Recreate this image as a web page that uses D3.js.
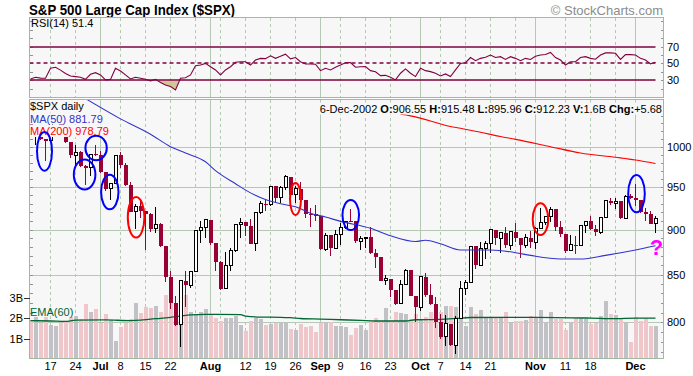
<!DOCTYPE html>
<html>
<head>
<meta charset="utf-8">
<script src="https://cdn.jsdelivr.net/npm/d3@7"></script>
<style>
  body { margin: 0; background: #fff; }
  svg { display: block; font-family: "Liberation Sans", Arial, sans-serif; }
</style>
</head>
<body>
<svg id="chart" width="693" height="376"></svg>
<script>
// $SPX daily candles, Jun 11 - Dec 6 2002, with RSI(14), MA(50), MA(200), volume + EMA(60)

const days = [
  "6/11","6/12","6/13","6/14","6/17","6/18","6/19","6/20","6/21","6/24","6/25","6/26","6/27","6/28",
  "7/1","7/2","7/3","7/5","7/8","7/9","7/10","7/11","7/12","7/15","7/16","7/17","7/18","7/19","7/22","7/23","7/24","7/25","7/26","7/29","7/30","7/31",
  "8/1","8/2","8/5","8/6","8/7","8/8","8/9","8/12","8/13","8/14","8/15","8/16","8/19","8/20","8/21","8/22","8/23","8/26","8/27","8/28","8/29","8/30",
  "9/3","9/4","9/5","9/6","9/9","9/10","9/11","9/12","9/13","9/16","9/17","9/18","9/19","9/20","9/23","9/24","9/25","9/26","9/27","9/30",
  "10/1","10/2","10/3","10/4","10/7","10/8","10/9","10/10","10/11","10/14","10/15","10/16","10/17","10/18","10/21","10/22","10/23","10/24","10/25","10/28","10/29","10/30","10/31",
  "11/1","11/4","11/5","11/6","11/7","11/8","11/11","11/12","11/13","11/14","11/15","11/18","11/19","11/20","11/21","11/22","11/25","11/26","11/27","11/29",
  "12/2","12/3","12/4","12/5","12/6"
];

const opens = [
  1030.74, 1013.60, 1020.26, 1009.56, 1007.27, 1036.17, 1037.14, 1019.99, 1006.29, 989.14, 992.72, 976.14, 973.53, 990.64,
  989.82, 968.65, 948.09, 953.99, 989.03, 976.98, 952.83, 920.47, 927.37, 921.39, 917.93, 900.94, 906.04, 881.56, 847.75, 819.85, 797.70, 843.43, 838.68, 852.84, 898.96, 902.78,
  911.62, 884.66, 864.24, 834.60, 859.57, 876.77, 905.46, 908.64, 903.80, 884.21, 919.62, 930.25, 928.77, 950.70, 937.43, 949.36, 962.70, 940.86, 947.95, 934.82, 917.87, 917.80,
  916.07, 878.02, 893.40, 879.15, 893.92, 902.96, 909.58, 909.45, 886.91, 889.81, 891.10, 873.52, 869.46, 843.32, 845.39, 833.70, 819.29, 839.66, 854.95, 827.37,
  815.28, 847.91, 827.91, 818.95, 800.58, 785.28, 798.55, 776.76, 803.92, 835.32, 841.44, 881.27, 860.02, 879.20, 884.39, 899.72, 890.16, 896.14, 882.50, 897.65, 890.23, 882.15, 890.71,
  885.76, 900.96, 908.35, 915.39, 923.76, 902.65, 894.74, 876.19, 882.95, 882.53, 904.27, 909.83, 900.36, 896.74, 914.15, 933.76, 930.55, 932.87, 913.31, 938.87,
  936.31, 934.53, 920.75, 917.58, 906.55
];

const highs = [
  1039, 1021.5, 1023, 1009.6, 1036.2, 1040.8, 1037.6, 1023.3, 1006.3, 1002.1, 995, 977.4, 990.7, 1001.8,
  994.5, 968.7, 954.3, 989.1, 993.6, 979.6, 956.3, 929.2, 934.3, 921.4, 918.7, 926.5, 907.8, 881.6, 854.1, 827.7, 844.3, 853.8, 852.9, 899.0, 909.8, 911.6,
  911.6, 884.7, 864.3, 874.4, 878.7, 905.8, 913.9, 908.6, 911.7, 920.2, 933.3, 935.4, 951.2, 950.7, 951.6, 965.0, 962.7, 950.8, 955.8, 934.8, 924.6, 928.2,
  916.1, 896.1, 893.4, 899.1, 907.3, 909.9, 924.0, 909.5, 892.8, 891.8, 902.7, 878.5, 869.5, 849.3, 845.4, 833.7, 844.2, 856.6, 854.9, 827.4,
  848.0, 851.9, 840.0, 825.9, 808.2, 807.0, 798.6, 806.5, 843.3, 844.4, 881.3, 881.3, 885.4, 886.7, 900.7, 899.7, 896.3, 902.9, 897.7, 907.4, 890.6, 895.3, 898.8,
  903.4, 924.6, 915.8, 925.7, 923.8, 910.1, 894.7, 894.3, 892.5, 904.3, 910.1, 915.9, 905.5, 915.0, 935.1, 937.2, 937.2, 932.9, 940.4, 941.8,
  954.3, 934.5, 925.3, 921.5, 915.48
];

const lows = [
  1012, 1002.7, 1008, 981.6, 1007.3, 1030.9, 1018.9, 1004.6, 985.7, 975, 974.2, 952.9, 963.7, 988.3,
  967.4, 945.5, 934.9, 954.0, 972.9, 951.7, 920.3, 900.9, 913.7, 876.5, 897.1, 895.8, 880.6, 842.1, 813.3, 796.1, 775.7, 816.1, 835.9, 852.8, 884.7, 889.9,
  882.5, 853.9, 833.4, 834.6, 854.1, 875.2, 890.8, 892.4, 883.6, 876.2, 918.2, 922.0, 927.0, 931.9, 931.5, 946.4, 937.2, 930.4, 930.4, 913.5, 903.3, 910.2,
  877.5, 875.7, 870.5, 879.2, 882.9, 900.5, 908.5, 884.8, 877.0, 878.9, 872.4, 857.4, 843.1, 839.1, 825.9, 817.4, 818.5, 839.7, 826.8, 800.2,
  812.0, 826.5, 817.3, 794.1, 783.0, 775.8, 775.8, 768.6, 803.9, 828.7, 841.4, 856.3, 860.0, 866.6, 873.1, 882.1, 873.8, 879.2, 877.0, 886.2, 867.9, 879.2, 879.7,
  877.7, 901.0, 904.9, 909.3, 898.7, 891.6, 874.2, 876.2, 872.1, 882.5, 895.6, 899.5, 893.1, 894.9, 914.2, 928.4, 923.9, 912.1, 913.3, 935.6,
  927.7, 918.7, 909.5, 905.9, 895.96
];

const closes = [
  1013.60, 1020.26, 1009.56, 1007.27, 1036.17, 1037.14, 1019.99, 1006.29, 989.14, 992.72, 976.14, 973.53, 990.64, 989.82,
  968.65, 948.09, 953.99, 989.03, 976.98, 952.83, 920.47, 927.37, 921.39, 917.93, 900.94, 906.04, 881.56, 847.75, 819.85, 797.70, 843.43, 838.68, 852.84, 898.96, 902.78, 911.62,
  884.66, 864.24, 834.60, 859.57, 876.77, 905.46, 908.64, 903.80, 884.21, 919.62, 930.25, 928.77, 950.70, 937.43, 949.36, 962.70, 940.86, 947.95, 934.82, 917.87, 917.80, 916.07,
  878.02, 893.40, 879.15, 893.92, 902.96, 909.58, 909.45, 886.91, 889.81, 891.10, 873.52, 869.46, 843.32, 845.39, 833.70, 819.29, 839.66, 854.95, 827.37, 815.28,
  847.91, 827.91, 818.95, 800.58, 785.28, 798.55, 776.76, 803.92, 835.32, 841.44, 881.27, 860.02, 879.20, 884.39, 899.72, 890.16, 896.14, 882.50, 897.65, 890.23, 882.15, 890.71, 885.76,
  900.96, 908.35, 915.39, 923.76, 902.65, 894.74, 876.19, 882.95, 882.53, 904.27, 909.83, 900.36, 896.74, 914.15, 933.76, 930.55, 932.87, 913.31, 938.87, 936.31,
  934.53, 920.75, 917.58, 906.55, 912.23
];

// volume, billions of shares
const volumes = [
  1.9, 2.05, 1.75, 2.05, 1.65, 1.6, 1.75, 1.8, 2.05, 2.1, 1.95, 2.7, 2.3, 2.45,
  1.75, 2.2, 1.9, 0.9, 1.55, 1.75, 1.95, 2.75, 2.25, 2.55, 2.5, 2.6, 2.3, 3.1, 2.9, 2.1, 3.3, 3.1, 2.3, 2.2, 2.3, 2.45,
  2.15, 2.0, 1.85, 2.0, 2.0, 2.1, 1.67, 1.39, 1.86, 2.0, 1.95, 1.65, 1.73, 1.78, 1.78, 1.78, 1.47, 1.44, 1.7, 1.57, 1.6, 1.33,
  1.78, 1.8, 1.8, 1.6, 1.6, 1.57, 1.2, 1.54, 1.65, 1.44, 1.86, 2.0, 1.84, 2.49, 1.86, 2.3, 2.25, 2.18, 1.97, 2.18,
  1.97, 2.05, 2.3, 1.97, 2.3, 2.6, 2.6, 2.55, 2.5, 1.64, 2.55, 2.2, 2.4, 2.0, 2.0, 2.05, 2.05, 2.3, 1.75, 1.85, 1.85, 1.9, 2.1,
  2.05, 2.4, 1.8, 2.3, 1.95, 1.95, 1.43, 1.8, 2.0, 2.0, 1.95, 1.7, 1.75, 2.1, 2.85, 2.2, 2.15, 2.0, 1.75, 0.85,
  2.05, 1.85, 2.0, 1.6, 1.6
];

const rsiValues = [
  31.5, 33.5, 32.5, 32.4, 44.2, 45.4, 42, 38, 35, 34.3, 33.5, 31, 37, 39,
  36.3, 30.4, 31, 44.2, 41, 36.3, 31.5, 33.5, 32.4, 31.1, 29.2, 31, 27.2, 24.4, 22.4, 18.5, 32.4, 33, 36.3, 47.3, 48, 50,
  46, 42.2, 36.3, 42.2, 46, 51.3, 52, 52, 48, 54, 56, 55.7, 59, 56, 58.5, 61, 55.5, 57, 52, 49.3, 49.3, 49,
  41.4, 44.2, 42.2, 45.4, 48, 50.8, 51, 45.4, 46, 46.3, 41.4, 40, 35.5, 35.8, 33.5, 30.4, 38.3, 43.5, 38.3, 34.3,
  44.2, 41.4, 40.2, 38.3, 35, 37.5, 34.3, 42.2, 50, 50.8, 57, 53.2, 56, 57.3, 60, 57, 58, 54.7, 58, 56, 53.2, 56, 54.7,
  58.5, 60, 60.5, 63, 57, 54, 48, 52, 52, 57, 58, 56, 55, 60, 62.5, 62.5, 62, 54.7, 60.5, 60.5,
  60, 56, 54, 49.5, 51.4
];

// moving averages at a few dates
const ma50Days = ["6/26","7/8","7/16","7/22","7/25","7/31","8/2","8/8","8/13","8/16","8/21","8/26","8/29","9/4","9/9","9/17","9/23","9/30","10/2","10/7","10/11","10/21","10/28","10/31","11/8","11/14","11/21","12/2","12/6"];
const ma50Values = [1063, 1036, 1016, 1000, 992, 981, 970, 954, 943, 935, 930, 926.5, 919, 914.5, 909.5, 901.5, 893, 886.5, 888, 884, 877, 877, 874, 871, 867, 867, 871, 877, 881.79];

const ma200Days = ["9/25","9/27","10/9","10/11","10/17","10/23","10/28","11/6","11/14","11/25","12/2","12/6"];
const ma200Values = [1042, 1040, 1026, 1023.7, 1018.5, 1013, 1009.4, 1000, 992, 986.6, 983.2, 978.79];

const emaDays = ["6/11","6/17","6/20","6/24","7/2","7/10","7/12","7/16","7/18","7/22","7/24","7/26","7/31","8/9","8/12","8/15","8/21","8/23","8/27","9/3","9/9","9/13","9/18","9/26","9/30","10/7","10/10","10/15","11/1","11/18","11/25","12/2","12/6"];
const emaValues = [1.875, 1.86, 1.84, 1.9, 1.91, 1.88, 1.9, 1.95, 1.99, 2.04, 2.1, 2.16, 2.18, 2.17, 2.1, 2.05, 2.04, 2.02, 1.98, 1.95, 1.92, 1.89, 1.86, 1.86, 1.92, 1.94, 1.98, 2.03, 2.04, 2.0, 1.97, 2.0, 2.0];

const priceTicks = [800, 850, 900, 950, 1000];
const volumeTicks = [1, 2, 3];
const rsiLevels = [70, 50, 30];

const monthLines = ["7/1","8/1","9/3","10/1","11/1","12/2"];
const weekLines = ["6/17","6/24","7/8","7/15","7/22","7/29","8/5","8/12","8/19","8/26","9/9","9/16","9/23","10/7","10/14","10/21","10/28","11/11","11/18","11/25"];
const dateLabelDays = ["6/17","6/24","7/1","7/8","7/15","7/22","8/1","8/12","8/19","8/26","9/3","9/9","9/16","9/23","10/1","10/7","10/14","10/21","11/1","11/11","11/18","12/2"];
const dateLabels = ["17","24","Jul","8","15","22","Aug","12","19","26","Sep","9","16","23","Oct","7","14","21","Nov","11","18","Dec"];

// hand-drawn circles: centre day (+ offset in days), half width in days, price top/bottom
const markDays = ["6/14","6/26","6/28","7/3","7/11","8/26","9/11","11/4","12/2"];
const markShift = [-0.2, -0.18, 0.12, -0.14, 0.12, 0, 0.05, 0, 0.2];
const markHalf = [1.5, 2.16, 2.14, 1.74, 1.66, 1.1, 1.66, 1.56, 1.66];
const markTop = [1019, 984, 1014, 965, 938, 955, 934.5, 930.6, 964.7];
const markBottom = [970, 947, 983, 923.5, 891, 917, 899.5, 893.8, 920];
const markColors = ["blue","blue","blue","blue","red","red","blue","red","blue"];

(function () {
  const LEFT = 29.5, RIGHT = 663.5;
  const RSI_TOP = 17.5, RSI_BOTTOM = 97.5;
  const MAIN_TOP = 99.5, MAIN_BOTTOM = 358.5;

  const GRID = "#b4c8b4";
  const BORDER = "#a3b8a3";
  const PANEL_BG = "#f7f7f7";
  const RED = "#990033";
  const MAROON = "#800040";

  const svg = d3.select("#chart");

  const x = d3.scalePoint().domain(days).range([30.5, 655.5]);
  const step = x.step();
  const y = d3.scaleLog().domain([800, 1000]).range([322.3, 146.7]);
  const yVol = d3.scaleLinear().domain([0, 3]).range([359.3, 297.5]);
  const yRsi = d3.scaleLinear().domain([30, 70]).range([80.2, 46.6]);

  const bars = days.map((d, k) => ({
    day: d, o: opens[k], h: highs[k], l: lows[k], c: closes[k], v: volumes[k], rsi: rsiValues[k]
  }));

  const defs = svg.append("defs");
  defs.append("clipPath").attr("id", "clip-main")
    .append("rect").attr("x", LEFT).attr("y", MAIN_TOP)
    .attr("width", RIGHT - LEFT).attr("height", MAIN_BOTTOM - MAIN_TOP);
  defs.append("clipPath").attr("id", "clip-rsi")
    .append("rect").attr("x", LEFT).attr("y", RSI_TOP)
    .attr("width", RIGHT - LEFT).attr("height", RSI_BOTTOM - RSI_TOP);
  defs.append("clipPath").attr("id", "clip-oversold")
    .append("rect").attr("x", LEFT).attr("y", yRsi(30))
    .attr("width", RIGHT - LEFT).attr("height", RSI_BOTTOM - yRsi(30));

  // titles
  svg.append("text").attr("x", 29).attr("y", 15)
    .attr("textLength", 206).attr("lengthAdjust", "spacingAndGlyphs")
    .style("font-size", "14.5px").style("font-weight", "bold")
    .text("S&P 500 Large Cap Index ($SPX)");
  svg.append("text").attr("x", 663).attr("y", 15).attr("text-anchor", "end")
    .style("font-size", "13px").style("fill", "#8c8c8c")
    .text("© StockCharts.com");

  // panel backgrounds + gridlines
  function panel(top, bottom) {
    const g = svg.append("g").attr("shape-rendering", "crispEdges");
    g.append("rect").attr("x", LEFT).attr("y", top)
      .attr("width", RIGHT - LEFT).attr("height", bottom - top)
      .attr("fill", PANEL_BG);
    g.selectAll(".wk").data(weekLines).enter().append("line")
      .attr("x1", d => x(d)).attr("x2", d => x(d))
      .attr("y1", top).attr("y2", bottom)
      .attr("stroke", GRID).attr("stroke-dasharray", "3,3");
    g.selectAll(".mo").data(monthLines).enter().append("line")
      .attr("x1", d => x(d)).attr("x2", d => x(d))
      .attr("y1", top).attr("y2", bottom)
      .attr("stroke", GRID);
    return g;
  }

  const rsiPanel = panel(RSI_TOP, RSI_BOTTOM);
  const mainPanel = panel(MAIN_TOP, MAIN_BOTTOM);

  mainPanel.selectAll(".hg").data(priceTicks).enter().append("line")
    .attr("x1", LEFT).attr("x2", RIGHT)
    .attr("y1", d => Math.round(y(d)) + 0.5).attr("y2", d => Math.round(y(d)) + 0.5)
    .attr("stroke", GRID);

  // minor ticks on panel edges
  const priceMinor = d3.range(770, 1070, 10).filter(v => y(v) > MAIN_TOP + 2 && y(v) < MAIN_BOTTOM - 2);
  [[LEFT, LEFT + 3], [RIGHT - 3, RIGHT]].forEach(([a, b]) => {
    mainPanel.selectAll(null).data(priceMinor).enter().append("line")
      .attr("x1", a).attr("x2", b)
      .attr("y1", d => Math.round(y(d)) + 0.5).attr("y2", d => Math.round(y(d)) + 0.5)
      .attr("stroke", "#8a9a8a");
  });
  const rsiMinor = d3.range(0, 110, 10).filter(v => yRsi(v) > RSI_TOP + 2 && yRsi(v) < RSI_BOTTOM - 2);
  [[LEFT, LEFT + 3], [RIGHT - 3, RIGHT]].forEach(([a, b]) => {
    rsiPanel.selectAll(null).data(rsiMinor).enter().append("line")
      .attr("x1", a).attr("x2", b)
      .attr("y1", d => Math.round(yRsi(d)) + 0.5).attr("y2", d => Math.round(yRsi(d)) + 0.5)
      .attr("stroke", "#8a9a8a");
  });

  // RSI panel
  const rsiG = svg.append("g").attr("clip-path", "url(#clip-rsi)");
  const lastX = x(days[days.length - 1]);
  rsiG.append("path")
    .datum(bars)
    .attr("clip-path", "url(#clip-oversold)")
    .attr("fill", "#cfc894")
    .attr("d", d3.area().x(d => x(d.day)).y0(yRsi(30)).y1(d => yRsi(d.rsi)));

  rsiG.selectAll(".lvl").data(rsiLevels).enter().append("line")
    .attr("x1", LEFT).attr("x2", lastX)
    .attr("y1", d => Math.round(yRsi(d))).attr("y2", d => Math.round(yRsi(d)))
    .attr("stroke", MAROON).attr("stroke-width", 1.6)
    .attr("stroke-dasharray", d => d === 50 ? "4,3" : null);

  rsiG.append("path")
    .datum(bars)
    .attr("fill", "none").attr("stroke", MAROON).attr("stroke-width", 1.1)
    .attr("d", d3.line().x(d => x(d.day)).y(d => yRsi(d.rsi)));

  svg.append("text").attr("x", 31).attr("y", 27)
    .style("font-size", "11px").text("RSI(14) 51.4");
  svg.selectAll(".rsiLab").data(rsiLevels).enter().append("text")
    .attr("x", 667).attr("y", d => yRsi(d) + 4)
    .style("font-size", "11px").text(d => d);

  // main panel
  const mainG = svg.append("g").attr("clip-path", "url(#clip-main)");

  mainG.selectAll(".vol").data(bars).enter().append("rect")
    .attr("x", d => x(d.day) - 2).attr("width", 4)
    .attr("y", d => yVol(d.v)).attr("height", d => yVol(0) - yVol(d.v))
    .attr("fill", d => d.c < d.o ? "#efc6ca" : "#c2c1c6")
    .attr("shape-rendering", "crispEdges");

  mainG.append("path")
    .datum(emaDays.map((d, k) => [d, emaValues[k]]))
    .attr("fill", "none").attr("stroke", "#006633").attr("stroke-width", 1.3)
    .attr("d", d3.line().x(d => x(d[0])).y(d => yVol(d[1])).curve(d3.curveMonotoneX));

  const candle = mainG.selectAll(".candle").data(bars).enter().append("g")
    .attr("shape-rendering", "crispEdges");
  candle.append("line")
    .attr("x1", d => x(d.day)).attr("x2", d => x(d.day))
    .attr("y1", d => y(d.h)).attr("y2", d => y(d.l))
    .attr("stroke", d => d.c < d.o ? RED : "#000");
  candle.append("rect")
    .attr("x", d => d.c < d.o ? x(d.day) - 2 : x(d.day) - 1.5)
    .attr("width", d => d.c < d.o ? 4 : 3)
    .attr("y", d => y(Math.max(d.o, d.c)))
    .attr("height", d => Math.max(1, y(Math.min(d.o, d.c)) - y(Math.max(d.o, d.c))))
    .attr("fill", d => d.c < d.o ? RED : "#fff")
    .attr("stroke", d => d.c < d.o ? "none" : "#000");

  const maLine = d3.line().x(d => x(d[0])).y(d => y(d[1])).curve(d3.curveMonotoneX);
  mainG.append("path")
    .datum(ma50Days.map((d, k) => [d, ma50Values[k]]))
    .attr("fill", "none").attr("stroke", "#3333cc").attr("stroke-width", 1.1)
    .attr("d", maLine);
  mainG.append("path")
    .datum(ma200Days.map((d, k) => [d, ma200Values[k]]))
    .attr("fill", "none").attr("stroke", "#ff0000").attr("stroke-width", 1.1)
    .attr("d", maLine);

  // text on an opaque panel-coloured box, as in the source chart
  function boxedText(parent, tx, ty, size, color, parts, anchor) {
    const g = parent.append("g");
    const bg = g.append("rect").attr("fill", PANEL_BG);
    const t = g.append("text").attr("x", tx).attr("y", ty)
      .attr("text-anchor", anchor || "start")
      .style("font-size", size).style("fill", color);
    parts.forEach(([s, b]) => t.append("tspan").style("font-weight", b ? "bold" : "normal").text(s));
    const bb = t.node().getBBox();
    bg.attr("x", bb.x - 1).attr("y", bb.y).attr("width", bb.width + 2).attr("height", bb.height);
    return g;
  }

  const legendG = svg.append("g").attr("clip-path", "url(#clip-main)");
  const legend = [["$SPX daily", "#000"], ["MA(50) 881.79", "#3333cc"], ["MA(200) 978.79", "#ff0000"]];
  legend.forEach((d, k) => boxedText(legendG, 30, 110 + k * 12.5, "11px", d[1], [[d[0], false]]));

  boxedText(legendG, 662, 112.5, "11px", "#000",
    [["6-Dec-2002 ", false], ["O:", true], ["906.55 ", false], ["H:", true], ["915.48 ", false],
     ["L:", true], ["895.96 ", false], ["C:", true], ["912.23 ", false], ["V:", true], ["1.6B ", false],
     ["Chg:", true], ["+5.68", false]], "end");

  svg.append("text").attr("x", 30).attr("y", 316)
    .style("font-size", "11px").style("fill", "#006633").text("EMA(60)");

  // hand-drawn annotations
  const markG = svg.append("g").attr("clip-path", "url(#clip-main)");
  markG.selectAll(".mark").data(markDays).enter().append("ellipse")
    .attr("cx", (d, k) => x(d) + markShift[k] * step)
    .attr("cy", (d, k) => (y(markTop[k]) + y(markBottom[k])) / 2)
    .attr("rx", (d, k) => markHalf[k] * step)
    .attr("ry", (d, k) => (y(markBottom[k]) - y(markTop[k])) / 2)
    .attr("fill", "none").attr("stroke", (d, k) => markColors[k] === "red" ? "#ff0000" : "#0000ff")
    .attr("stroke-width", 2);
  markG.append("text")
    .attr("x", x("12/6") + 1).attr("y", y(871))
    .attr("text-anchor", "middle")
    .style("font-size", "22px").style("font-weight", "bold").style("fill", "#ff00ff")
    .text("?");

  // borders
  [[RSI_TOP, RSI_BOTTOM], [MAIN_TOP, MAIN_BOTTOM]].forEach(([t, b]) => {
    svg.append("rect").attr("x", LEFT).attr("y", t)
      .attr("width", RIGHT - LEFT).attr("height", b - t)
      .attr("shape-rendering", "crispEdges")
      .attr("fill", "none").attr("stroke", BORDER);
  });

  // axes labels
  svg.selectAll(".pLab").data(priceTicks).enter().append("text")
    .attr("x", 667).attr("y", d => y(d) + 4)
    .style("font-size", "11px").text(d => d);

  svg.selectAll(".vTick").data(volumeTicks).enter().append("line")
    .attr("shape-rendering", "crispEdges")
    .attr("x1", 24).attr("x2", LEFT)
    .attr("y1", d => Math.round(yVol(d)) + 0.5).attr("y2", d => Math.round(yVol(d)) + 0.5)
    .attr("stroke", "#333");
  svg.selectAll(".vLab").data(volumeTicks).enter().append("text")
    .attr("x", 23).attr("y", d => yVol(d) + 4).attr("text-anchor", "end")
    .style("font-size", "11px").text(d => d + "B");

  svg.selectAll(".xLab").data(dateLabelDays).enter().append("text")
    .attr("x", d => x(d)).attr("y", 370).attr("text-anchor", "middle")
    .style("font-size", "11px")
    .style("font-weight", (d, k) => /^[A-Z]/.test(dateLabels[k]) ? "bold" : "normal")
    .text((d, k) => dateLabels[k]);
})();
</script>
</body>
</html>
